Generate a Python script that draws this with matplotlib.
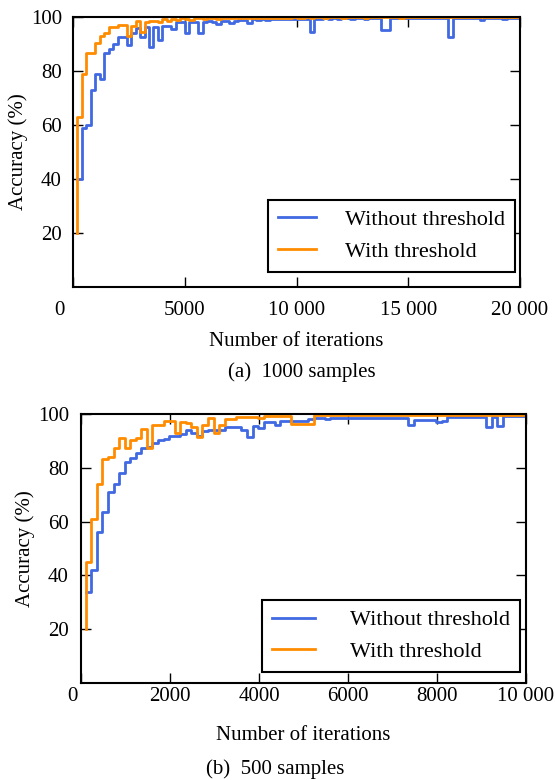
import numpy as np
import matplotlib
matplotlib.use('Agg')
import matplotlib.pyplot as plt
from matplotlib.ticker import FuncFormatter
from matplotlib.transforms import ScaledTranslation

plt.rcParams['font.family'] = ['Liberation Serif', 'DejaVu Serif']
plt.rcParams['font.size'] = 15

# (a) 1000 samples, accuracy logged every 200 iterations
iters_a = np.arange(200, 20000, 200)
without_a = [40, 59, 60, 73, 79, 77, 86.5, 88, 90, 92.7,
             92.7, 89.6, 94, 95.8, 92.7, 96.4, 89, 96.4, 91.5, 96.7,
             96.7, 95.5, 98.3, 98, 94, 98.3, 98.3, 94, 98.3, 98.5,
             98, 97.5, 98.7, 98.5, 97.8, 98.7, 99, 98.9, 97.6, 99.2,
             99, 99.2, 99, 99.2, 99.3, 99.2, 99.4, 99.2, 99.4, 99.3,
             99.4, 99.4, 94.6, 99.2, 99.4, 99.5, 99.3, 99.5, 99.4, 99.5,
             99.5, 99.4, 99.5, 99.5, 99.4, 99.5, 99.5, 99.6, 95.2, 95.2,
             99.5, 99.6, 99.5, 99.6, 99.5, 99.6, 99.6, 99.5, 99.6, 99.6,
             99.6, 99.5, 99.6, 92.7, 99.6, 99.6, 99.7, 99.6, 99.7, 99.6,
             99, 99.7, 99.6, 99.7, 99.7, 99.2, 99.7, 99.7, 99.7]
with_a_start = 20
with_a = [63, 79, 86.5, 86.5, 90.2, 93, 94, 96.4, 96.4, 97,
          97, 93, 96.5, 98.6, 94.5, 98.3, 98.6, 98.6, 98, 99.3,
          98.5, 99.3, 98.8, 99.5, 99.3, 98.8, 99.5, 99.6, 99.2, 99.6,
          99.7, 99.4, 99.7, 99.7, 99.5, 99.8, 99.7, 99.8, 99.6, 99.8,
          99.8, 99.7, 99.8, 99.8, 99.8, 99.7, 99.8, 99.8, 99.9, 99.8,
          99.8, 99.9, 99.8, 99.9, 99.9, 99.8, 99.9, 99.9, 99.9, 99.8,
          99.9, 99.9, 99.9, 99.9, 99.8, 99.9, 99.9, 99.9, 99.9, 99.9,
          99.9, 99.9, 99.8, 99.9, 99.9, 99.9, 99.9, 99.9, 99.9, 99.9,
          99.9, 99.9, 99.9, 99.9, 99.9, 99.9, 99.9, 99.9, 99.9, 99.9,
          99.9, 99.9, 99.9, 99.9, 99.9, 99.9, 99.9, 99.9, 99.9]

# (b) 500 samples, accuracy logged every 125 iterations
iters_b = np.arange(100, 10000, 125)
without_b = [34, 42, 56, 63.5, 71, 74, 78, 82, 83.6, 85.6,
             87.3, 87.8, 89.2, 90.3, 90.7, 92, 92, 92.5, 94, 93,
             92, 93.7, 94, 94, 94, 95.2, 95, 95, 94, 91.5,
             95.5, 94.7, 97, 97, 96, 97.5, 97.5, 97.5, 97.5, 97.5,
             98, 98.4, 98.4, 98.3, 98.4, 98.4, 98.5, 98.4, 98.4, 98.5,
             98.4, 98.5, 98.4, 98.5, 98.4, 98.4, 98.5, 98.4, 95.9, 97.8,
             97.8, 97.8, 97.8, 97.1, 97.5, 98.8, 98.8, 98.8, 98.8, 98.8,
             98.8, 98.8, 95.3, 98.8, 95.5, 99.3, 99.3, 99.3, 99.3, 99.3]
with_b_start = 20
with_b = [45, 61, 74, 83.2, 84, 87.4, 90.9, 87.2, 90.3, 90.9,
          94.6, 87.2, 95.9, 96, 97.5, 97.5, 92.8, 97.1, 96.5, 95.2,
          91.5, 95.9, 98.4, 92.8, 95.9, 98, 98, 99, 99, 99,
          99, 98.4, 99.3, 99.3, 99.3, 99.3, 99.3, 96.3, 96.3, 96.3,
          96.3, 99.5, 99.5, 99.6, 99.5, 99.6, 99.6, 99.5, 99.6, 99.6,
          99.6, 99.6, 99.7, 99.6, 99.6, 99.7, 99.6, 99.7, 99.7, 99.6,
          99.7, 99.7, 99.7, 99.7, 99.6, 99.7, 99.7, 99.7, 99.7, 99.7,
          99.7, 99.7, 99.7, 99.7, 99.7, 99.7, 99.7, 99.7, 99.7, 99.7]

blue = '#4169e1'
orange = '#ff8c00'


def thousands(v, pos):
    v = int(round(v))
    if v >= 10000:
        return f'{v:,}'.replace(',', ' ')
    return str(v)


def draw(ax, iters, without, with_start, with_, xmax, xticks, xpad, ypad):
    x = np.r_[iters, xmax]
    ax.step(x, np.r_[without, without[-1]], where='post', color=blue, lw=2, label='Without threshold')
    ax.step(np.r_[iters[0], x], np.r_[with_start, with_, with_[-1]], where='post',
            color=orange, lw=2, label='With threshold')
    ax.set_xlim(0, xmax)
    ax.set_ylim(0, 100)
    ax.set_xticks(xticks)
    ax.set_yticks([20, 40, 60, 80, 100])
    ax.xaxis.set_major_formatter(FuncFormatter(thousands))
    ax.tick_params(direction='in', top=True, right=True, length=7, width=1)
    ax.tick_params(axis='x', pad=xpad)
    ax.tick_params(axis='y', pad=ypad)
    for s in ax.spines.values():
        s.set_linewidth(1.5)
    ax.set_xlabel('Number of iterations', va='top')
    ax.set_ylabel('Accuracy (%)', va='center')


fig = plt.figure(figsize=(5.55, 7.8), dpi=100)
ax1 = fig.add_axes([73 / 555, 493 / 780, 447 / 555, 270 / 780])
ax2 = fig.add_axes([81.3 / 555, 97 / 780, 444.7 / 555, 269 / 780])

draw(ax1, iters_a, without_a, with_a_start, with_a, 20000, [0, 5000, 10000, 15000, 20000], 10, 8)
draw(ax2, iters_b, without_b, with_b_start, with_b, 10000, [0, 2000, 4000, 6000, 8000, 10000], 3, 9)

ax1.xaxis.set_label_coords(0.5, -0.168)
ax2.xaxis.set_label_coords(0.5, -0.158)
ax1.yaxis.set_label_coords(-0.123, 0.5)
ax2.yaxis.set_label_coords(-0.127, 0.5)

for ax, anchor, hl, hp in [(ax1, (0.989, 0.056), 1.7, 1.3), (ax2, (0.987, 0.041), 1.9, 1.6)]:
    leg = ax.legend(loc='lower right', bbox_to_anchor=anchor, borderaxespad=0,
                    fancybox=False, framealpha=1, edgecolor='black', fontsize=16,
                    handlelength=hl, handletextpad=hp, borderpad=0.45)
    leg.get_frame().set_linewidth(1.5)

fig.text(302 / 555, 1 - 372 / 780, '(a)  1000 samples', ha='center', va='center')
fig.text(275 / 555, 1 - 769 / 780, '(b)  500 samples', ha='center', va='center')

# the "0" labels sit a bit left of the axis corner in the original
fig.canvas.draw()
for ax, dx in [(ax1, -14), (ax2, -9)]:
    lbl = ax.get_xticklabels()[0]
    lbl.set_transform(lbl.get_transform() + ScaledTranslation(dx / 100, 0, fig.dpi_scale_trans))

fig.savefig('out.png', dpi=100)
